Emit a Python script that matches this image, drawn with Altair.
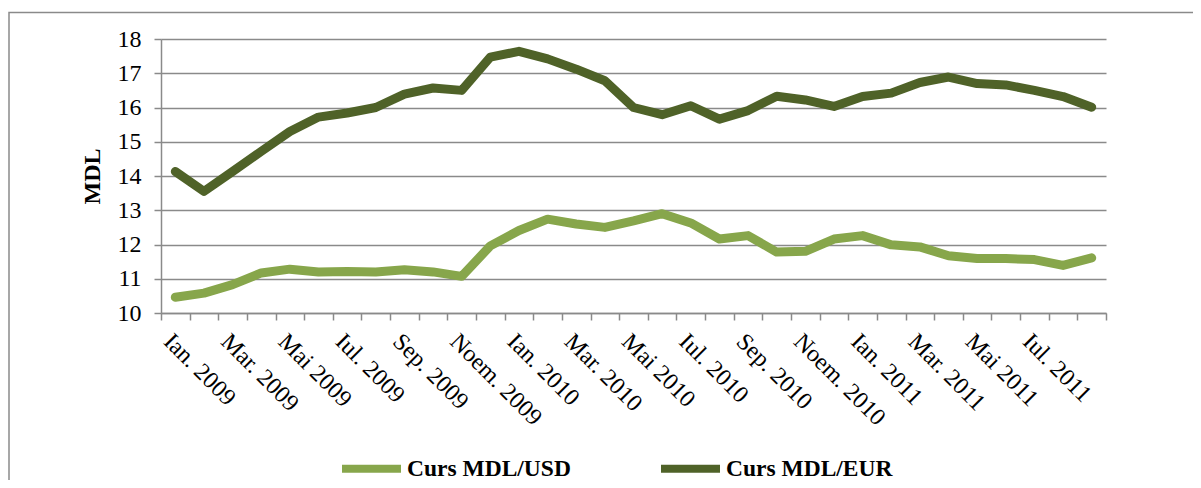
import json
import altair as alt
import pandas as pd

months = [
    "Ian. 2009", "Feb. 2009", "Mar. 2009", "Apr. 2009", "Mai 2009", "Iun. 2009",
    "Iul. 2009", "Aug. 2009", "Sep. 2009", "Oct. 2009", "Noem. 2009", "Dec. 2009",
    "Ian. 2010", "Feb. 2010", "Mar. 2010", "Apr. 2010", "Mai 2010", "Iun. 2010",
    "Iul. 2010", "Aug. 2010", "Sep. 2010", "Oct. 2010", "Noem. 2010", "Dec. 2010",
    "Ian. 2011", "Feb. 2011", "Mar. 2011", "Apr. 2011", "Mai 2011", "Iun. 2011",
    "Iul. 2011", "Aug. 2011", "Sep. 2011",
]
usd = [10.46, 10.58, 10.83, 11.17, 11.28, 11.20, 11.21, 11.20, 11.26, 11.20, 11.07,
       11.96, 12.41, 12.74, 12.60, 12.50, 12.69, 12.90, 12.63, 12.16, 12.26, 11.78,
       11.80, 12.16, 12.26, 11.99, 11.93, 11.67, 11.59, 11.59, 11.56, 11.39, 11.61]
eur = [14.13, 13.55, 14.13, 14.72, 15.30, 15.72, 15.84, 16.00, 16.39, 16.57, 16.50,
       17.47, 17.64, 17.42, 17.12, 16.78, 16.00, 15.79, 16.05, 15.66, 15.91, 16.33,
       16.22, 16.03, 16.32, 16.42, 16.73, 16.89, 16.70, 16.66, 16.50, 16.32, 16.01]
series_names = ["Curs MDL/USD", "Curs MDL/EUR"]
series_colors = ["#87A64B", "#4F6228"]
y_ticks = [10, 11, 12, 13, 14, 15, 16, 17, 18]

rows = []
for i, m in enumerate(months):
    rows.append({"idx": i, "month": m, "series": series_names[0], "value": usd[i]})
    rows.append({"idx": i, "month": m, "series": series_names[1], "value": eur[i]})
df = pd.DataFrame(rows)

n = len(months)
tick_vals = [i - 0.5 for i in range(n + 1)] + list(range(0, n - 1, 2))
label_expr = ("datum.value % 1 == 0 ? " + json.dumps(months) +
              "[datum.value] : ''")

FONT = "Liberation Serif"
GRAY = "#8a8a8a"

x_axis = alt.Axis(
    values=tick_vals, labelExpr=label_expr, title=None, grid=False,
    labelAngle=45, labelAlign="left", labelBaseline="top",
    labelOverlap=False, labelFlush=False, labelBound=False, labelLimit=0,
    labelPadding=9, labelOffset=0,
    labelFont=FONT, labelFontSize=24, labelColor="black",
    tickSize=7, tickColor=GRAY, tickWidth=1.5,
    tickOpacity={"condition": {"test": "datum.value % 1 == 0", "value": 0}, "value": 1},
    domainColor=GRAY, domainWidth=1.5,
)
y_axis = alt.Axis(
    values=y_ticks, title="MDL", grid=True, gridColor=GRAY, gridWidth=1.5,
    labelFont=FONT, labelFontSize=24, labelColor="black", labelPadding=13,
    tickSize=7, tickColor=GRAY, tickWidth=1.5,
    domainColor=GRAY, domainWidth=1.5,
    titleFont=FONT, titleFontSize=24, titleFontWeight="bold", titleColor="black",
    titlePadding=13,
)

lines = alt.Chart(df).mark_line(strokeWidth=9, strokeCap="round", strokeJoin="round").encode(
    x=alt.X("idx:Q", scale=alt.Scale(domain=[-0.5, n - 0.5], nice=False, zero=False), axis=x_axis),
    y=alt.Y("value:Q", scale=alt.Scale(domain=[10, 18], nice=False, zero=False), axis=y_axis),
    color=alt.Color(
        "series:N",
        scale=alt.Scale(domain=series_names, range=series_colors),
        sort=series_names,
        legend=alt.Legend(
            title=None, orient="none", direction="horizontal",
            legendX=177, legendY=396, padding=0,
            symbolType="stroke", symbolSize=3481, symbolStrokeWidth=8,
            labelFont=FONT, labelFontSize=23.5, labelFontWeight="bold",
            labelColor="black", labelOffset=2, labelLimit=0, columnPadding=74,
        ),
    ),
    detail="series:N",
)

frame = alt.Chart(pd.DataFrame({"f": [0]})).mark_rect(
    filled=False, stroke=GRAY, strokeWidth=1.5
).encode(
    x=alt.value(-152), x2=alt.value(1200), y=alt.value(-26.5), y2=alt.value(600)
)

chart = alt.layer(frame, lines).properties(
    width=945, height=274,
    autosize=alt.AutoSizeParams(type="none"),
    padding={"left": 153, "top": 31, "right": 87, "bottom": 167},
    background="white",
).configure_view(stroke=None)

chart.save("out.html", embed_options={"renderer": "svg", "actions": False})
